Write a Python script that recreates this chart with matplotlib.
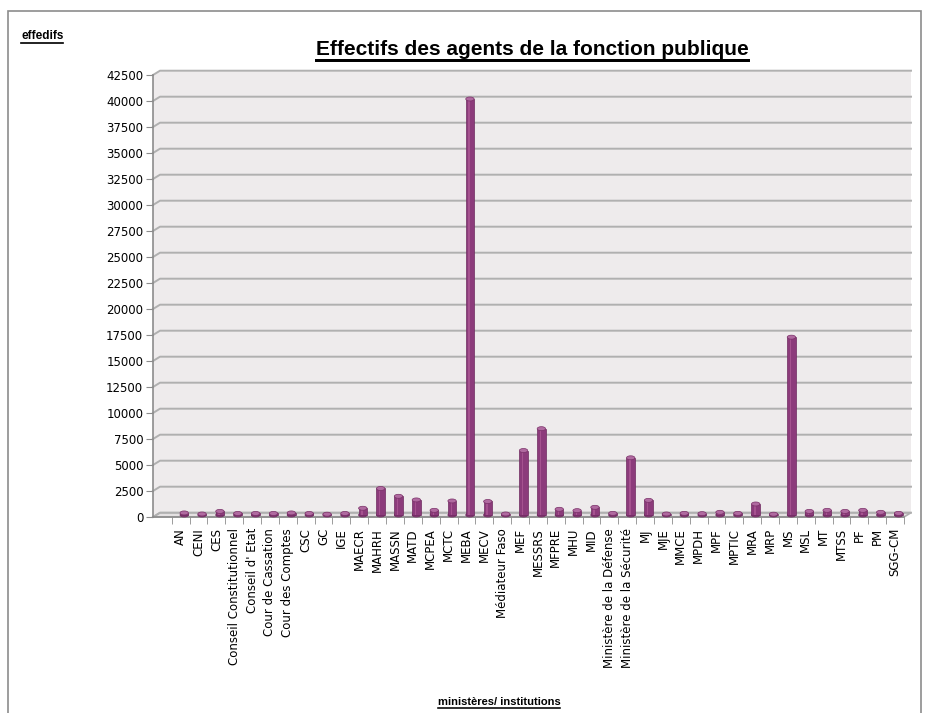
import numpy as np
import matplotlib
matplotlib.use('Agg')
import matplotlib.pyplot as plt
import matplotlib.transforms as mtransforms
from matplotlib.patches import Ellipse, Polygon, Rectangle
from matplotlib.lines import Line2D

# effectifs par ministère / institution
labels = ['AN', 'CENI', 'CES', 'Conseil Constitutionnel', "Conseil d' Etat",
          'Cour de Cassation', 'Cour des Comptes', 'CSC', 'GC', 'IGE',
          'MAECR', 'MAHRH', 'MASSN', 'MATD', 'MCPEA', 'MCTC', 'MEBA', 'MECV',
          'Médiateur Faso', 'MEF', 'MESSRS', 'MFPRE', 'MHU', 'MID',
          'Ministère de la Défense', 'Ministère de la Sécurité', 'MJ', 'MJE',
          'MMCE', 'MPDH', 'MPF', 'MPTIC', 'MRA', 'MRP', 'MS', 'MSL', 'MT',
          'MTSS', 'PF', 'PM', 'SGG-CM']
effectifs = [200, 100, 350, 150, 150, 150, 200, 150, 80, 150,
             650, 2550, 1800, 1450, 450, 1350, 40000, 1300, 100, 6200,
             8300, 550, 420, 740, 160, 5500, 1410, 100, 160, 130,
             260, 160, 1060, 80, 17100, 350, 450, 350, 450, 260, 160]
yticks = np.arange(0, 42501, 2500)

plt.rcParams['font.family'] = ['DejaVu Sans']
titlefont = ['Liberation Sans', 'DejaVu Sans']

W, H = 925, 713
fig = plt.figure(figsize=(W / 100, H / 100), dpi=100)
ax = fig.add_axes([153 / W, 1 - 517 / H, 751 / W, 442 / H])
ax.set_facecolor('none')
ax.set_xlim(-1.55, 40.5)
ax.set_ylim(0, 42500)

wall = '#eeebec'
grid = '#b0b0b0'
# depth of the 3D box, in axes fraction
dx, dy = 7 / 751, 4.3 / 442

# back wall, left wall and floor
ax.add_patch(Polygon([(dx, dy), (1 + dx, dy), (1 + dx, 1 + dy), (dx, 1 + dy)],
                     closed=True, transform=ax.transAxes, facecolor=wall,
                     edgecolor='none', clip_on=False, zorder=0))
ax.add_patch(Polygon([(0, 0), (dx, dy), (dx, 1 + dy), (0, 1)], closed=True,
                     transform=ax.transAxes, facecolor=wall, edgecolor='none',
                     clip_on=False, zorder=0))
ax.add_patch(Polygon([(0, 0), (1, 0), (1 + dx, dy), (dx, dy)], closed=True,
                     transform=ax.transAxes, facecolor='#e4e1e2',
                     edgecolor=grid, lw=1.2, clip_on=False, zorder=1))

# gridlines on the walls
for v in yticks:
    yf = v / 42500
    ax.add_line(Line2D([0, dx, 1 + dx], [yf, yf + dy, yf + dy],
                       transform=ax.transAxes, color=grid, lw=1.4,
                       clip_on=False, zorder=1))

# cylinders, set half-way into the depth
mid = ax.transData + mtransforms.ScaledTranslation(0.035, 0.02, fig.dpi_scale_trans)
x = np.arange(len(labels))
bw = 0.47
cap = 4 * 42500 / 442
for xi, v in zip(x, effectifs):
    ax.add_patch(Ellipse((xi, 0), bw, cap, transform=mid, facecolor='#8a3a79',
                         edgecolor='#6e2a5f', lw=0.5, zorder=3, clip_on=False))
    ax.add_patch(Rectangle((xi - bw / 2, 0), bw, v, transform=mid,
                           facecolor='#8c3b7b', edgecolor='#6e2a5f', lw=0.5,
                           zorder=3, clip_on=False))
    ax.add_patch(Rectangle((xi - bw * 0.18, 0), bw * 0.16, v, transform=mid,
                           facecolor='#a5528f', edgecolor='none',
                           zorder=3, clip_on=False))
    ax.add_patch(Ellipse((xi, v), bw, cap, transform=mid, facecolor='#b06aa0',
                         edgecolor='#7a3068', lw=0.5, zorder=4, clip_on=False))

# axes
for s in ['top', 'right']:
    ax.spines[s].set_visible(False)
for s in ['left', 'bottom']:
    ax.spines[s].set_color('#8c8c8c')
    ax.spines[s].set_linewidth(1.2)
ax.set_yticks(yticks)
ax.set_yticklabels([str(v) for v in yticks], fontsize=8.5)
ax.tick_params(axis='y', length=5, color='#8c8c8c', pad=2)
ax.set_xticks(x)
ax.set_xticklabels(labels, rotation=90, fontsize=8.5)
ax.tick_params(axis='x', length=0, pad=8)
ax.set_xticks(np.arange(-0.5, 41, 1), minor=True)
ax.tick_params(axis='x', which='minor', length=5, color='#8c8c8c')

# chart border
fig.add_artist(Rectangle((8 / W, -0.05), 913 / W, 1.05 - 11 / H,
                         transform=fig.transFigure, fill=False,
                         edgecolor='#8c8c8c', lw=1.2))


def underlined(xp, yp, text, size, ha):
    t = fig.text(xp / W, 1 - yp / H, text, fontsize=size, fontweight='bold',
                 ha=ha, va='baseline', family=titlefont)
    fig.canvas.draw()
    bb = t.get_window_extent()
    yl = bb.y0 - 1
    fig.add_artist(Line2D([bb.x0, bb.x1], [yl, yl], transform=None,
                          color='black', lw=size / 7))


underlined(532, 55, 'Effectifs des agents de la fonction publique', 15, 'center')
underlined(21, 39, 'effedifs', 8.5, 'left')
underlined(499, 705, 'ministères/ institutions', 8, 'center')

fig.savefig('out.png', dpi=100)
